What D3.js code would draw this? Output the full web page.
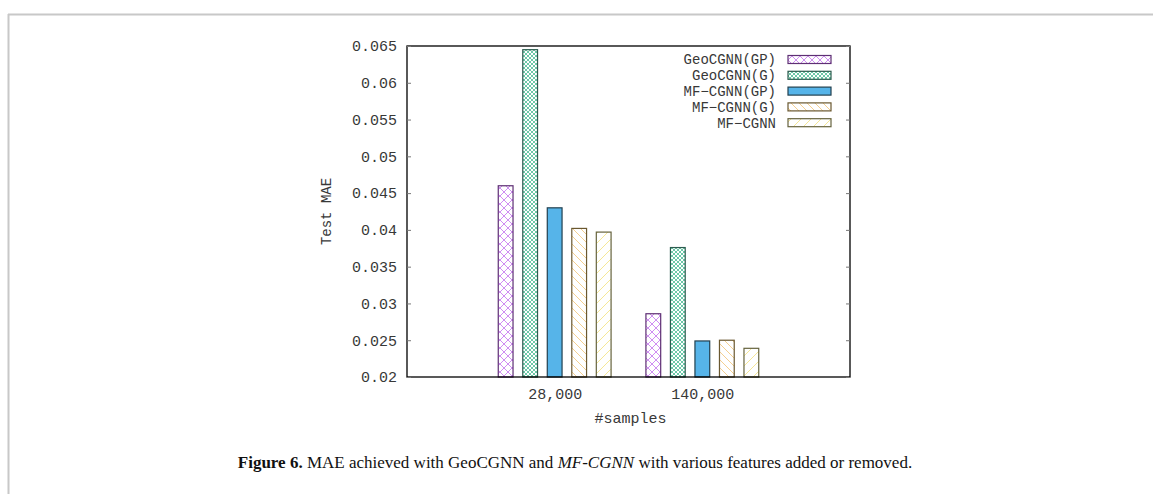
<!DOCTYPE html>
<html>
<head>
<meta charset="utf-8">
<script src="https://cdn.jsdelivr.net/npm/d3@7"></script>
<style>
  body { margin: 0; background: #fff; }
  svg { display: block; }
  .mono { font-family: "Liberation Mono", "DejaVu Sans Mono", monospace; fill: #383838; }
</style>
</head>
<body>
<div id="chart"></div>
<script>
// data
const groups = ["28,000", "140,000"];
const seriesNames = ["GeoCGNN(GP)", "GeoCGNN(G)", "MF-CGNN(GP)", "MF-CGNN(G)", "MF-CGNN"];
const geoGP = [0.0460, 0.0286];
const geoG = [0.0645, 0.0376];
const mfGP = [0.0430, 0.0249];
const mfG = [0.0402, 0.0250];
const mf = [0.0397, 0.0239];
const yTicks = [0.02, 0.025, 0.03, 0.035, 0.04, 0.045, 0.05, 0.055, 0.06, 0.065];

const values = [geoGP, geoG, mfGP, mfG, mf];

const W = 1153, H = 494;
const plot = { left: 407, right: 850, top: 46, bottom: 377 };

const svg = d3.select("#chart").append("svg")
  .attr("width", W)
  .attr("height", H);

// page frame
svg.append("line").attr("x1", 8).attr("x2", W).attr("y1", 14.5).attr("y2", 14.5)
  .attr("stroke", "#c8c8c8").attr("stroke-width", 2);
svg.append("line").attr("x1", 8.5).attr("x2", 8.5).attr("y1", 14).attr("y2", H)
  .attr("stroke", "#c8c8c8").attr("stroke-width", 2);

//fill patterns, gnuplot style
const defs = svg.append("defs");
const styles = [
  { id: "p0", color: "#cf8ef2", border: "#5e2f74", kind: "cross", size: 8 },
  { id: "p1", color: "#6cc8a8", border: "#2c5c4f", kind: "cross", size: 4 },
  { id: "p2", color: "#56b4e9", border: "#22404f", kind: "solid" },
  { id: "p3", color: "#f4cf90", border: "#6a5830", kind: "back", size: 8 },
  { id: "p4", color: "#f5e796", border: "#66633e", kind: "fwd", size: 10 }
];

styles.forEach(function(s) {
  if (s.kind === "solid") return;
  const p = defs.append("pattern")
    .attr("id", s.id)
    .attr("patternUnits", "userSpaceOnUse")
    .attr("width", s.size)
    .attr("height", s.size);
  p.append("rect").attr("width", s.size).attr("height", s.size).attr("fill", "#fff");
  const n = s.size;
  if (s.kind === "cross" || s.kind === "fwd") {
    p.append("path").attr("d", `M0,${n} L${n},0 M${-n/2},${n/2} L${n/2},${-n/2} M${n/2},${n*1.5} L${n*1.5},${n/2}`)
      .attr("stroke", s.color).attr("stroke-width", 1);
  }
  if (s.kind === "cross" || s.kind === "back") {
    p.append("path").attr("d", `M0,0 L${n},${n} M${-n/2},${n/2} L${n/2},${n*1.5} M${n/2},${-n/2} L${n*1.5},${n/2}`)
      .attr("stroke", s.color).attr("stroke-width", 1);
  }
});

function fillOf(i) {
  return styles[i].kind === "solid" ? styles[i].color : `url(#${styles[i].id})`;
}

//scales
const x = d3.scaleLinear().domain([-1, 2]).range([plot.left, plot.right]);
const y = d3.scaleLinear().domain([0.02, 0.065]).range([plot.bottom, plot.top]);

const barStep = 0.166, barWidth = 0.1;

//bars
const barG = svg.append("g");
values.forEach(function(series, si) {
  barG.selectAll(".bar" + si)
    .data(series)
    .enter().append("rect")
      .attr("x", (d, gi) => x(gi + (si - 2) * barStep - barWidth / 2))
      .attr("width", x(barWidth) - x(0))
      .attr("y", d => y(d))
      .attr("height", d => y(0.02) - y(d))
      .attr("fill", fillOf(si))
      .attr("stroke", styles[si].border)
      .attr("stroke-width", 1.2);
});

//axes box and ticks
svg.append("rect")
  .attr("x", plot.left).attr("y", plot.top)
  .attr("width", plot.right - plot.left).attr("height", plot.bottom - plot.top)
  .attr("fill", "none").attr("stroke", "#000").attr("stroke-width", 1.3);

const yAxis = svg.append("g")
  .attr("transform", `translate(${plot.left},0)`)
  .call(d3.axisLeft(y).tickValues(yTicks).tickSize(-4).tickPadding(10)
    .tickFormat(d => String(+d.toFixed(3))));
yAxis.select(".domain").remove();
yAxis.selectAll("line").attr("stroke", "#777");
yAxis.selectAll("text").attr("class", "mono").style("font-size", "15px").attr("fill", null);

const yAxisR = svg.append("g")
  .attr("transform", `translate(${plot.right},0)`)
  .call(d3.axisRight(y).tickValues(yTicks).tickSize(-4).tickFormat(""));
yAxisR.select(".domain").remove();
yAxisR.selectAll("line").attr("stroke", "#777");

const xAxis = svg.append("g")
  .attr("transform", `translate(0,${plot.bottom})`)
  .call(d3.axisBottom(x).tickValues([0, 1]).tickSize(0).tickPadding(11)
    .tickFormat(d => groups[d]));
xAxis.select(".domain").remove();
xAxis.selectAll("text").attr("class", "mono").style("font-size", "15px").attr("fill", null);

//axis titles
svg.append("text").attr("class", "mono")
  .attr("transform", `translate(331,${(plot.top + plot.bottom) / 2}) rotate(-90)`)
  .attr("text-anchor", "middle")
  .style("font-size", "14px")
  .text("Test MAE");

svg.append("text").attr("class", "mono")
  .attr("x", (plot.left + plot.right) / 2 + 2).attr("y", 423)
  .attr("text-anchor", "middle")
  .style("font-size", "15px")
  .text("#samples");

//legend
const legend = svg.append("g");
seriesNames.forEach(function(name, i) {
  const cy = 59.5 + i * 15.8;
  legend.append("text").attr("class", "mono")
    .attr("x", 776).attr("y", cy).attr("dy", "0.35em")
    .attr("text-anchor", "end")
    .style("font-size", "14px")
    .text(name.replace("-", "\u2212"));
  legend.append("rect")
    .attr("x", 788).attr("y", cy - 4)
    .attr("width", 43).attr("height", 8)
    .attr("fill", fillOf(i))
    .attr("stroke", styles[i].border)
    .attr("stroke-width", 1.2);
});

//caption
const cap = svg.append("text")
  .attr("x", 575).attr("y", 468)
  .attr("text-anchor", "middle")
  .style("font-family", "'Liberation Serif', 'DejaVu Serif', serif")
  .style("font-size", "17px")
  .attr("fill", "#111");
cap.append("tspan").style("font-weight", "bold").text("Figure 6.");
cap.append("tspan").text(" MAE achieved with GeoCGNN and ");
cap.append("tspan").style("font-style", "italic").text("MF-CGNN");
cap.append("tspan").text(" with various features added or removed.");
</script>
</body>
</html>
